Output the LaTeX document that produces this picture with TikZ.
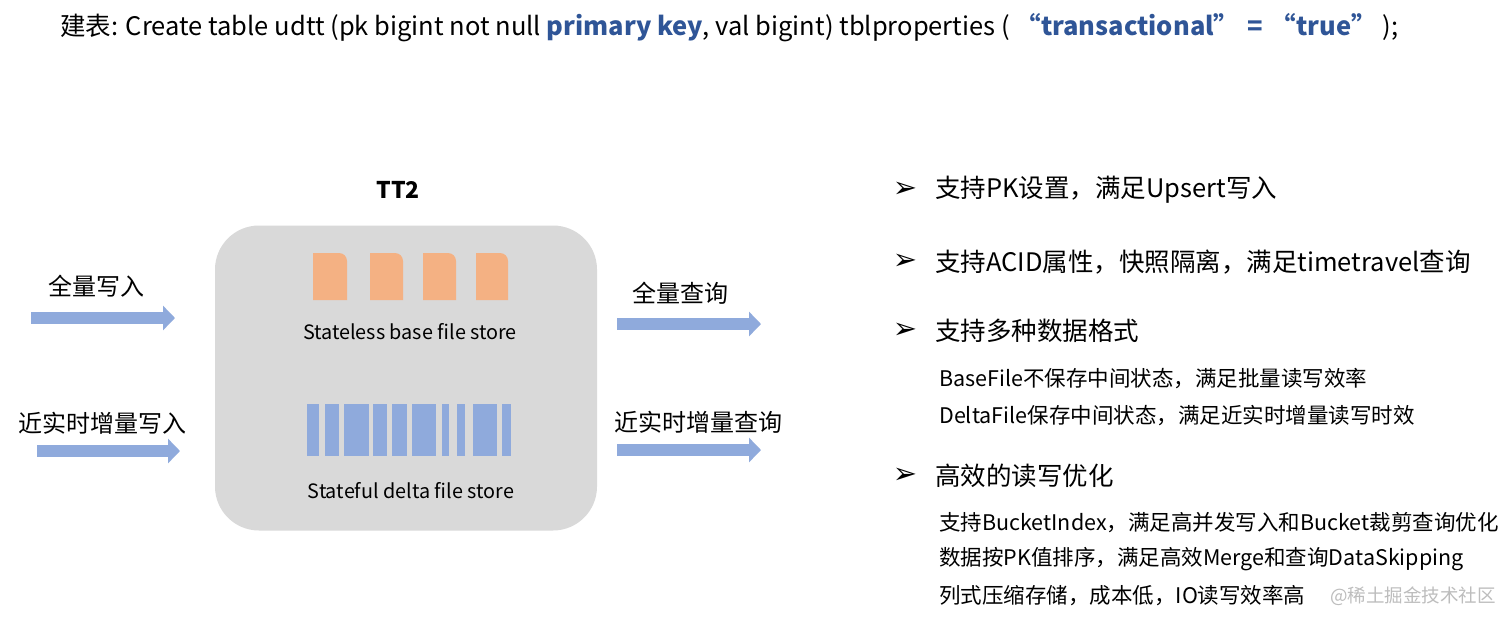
\documentclass[tikz,border=0pt]{standalone}
\usepackage{fontspec}
\setmainfont{Noto Sans CJK SC}
\newfontfamily\symfont{DejaVu Sans}
\usetikzlibrary{arrows.meta}
\definecolor{keyblue}{HTML}{2F5597}
\definecolor{barblue}{HTML}{8FAADC}
\definecolor{fileorange}{HTML}{F4B183}
\definecolor{storegray}{HTML}{D9D9D9}
\definecolor{markgray}{HTML}{BDBDBD}
\tikzset{
  flow/.style={line width=12pt, draw=barblue, -{Triangle[length=12pt,width=24pt]}},
  lbl/.style={inner sep=0pt, font=\fontsize{24}{28}\selectfont},
  item/.style={anchor=west, inner sep=0pt, font=\fontsize{25.5}{30}\selectfont},
  subitem/.style={anchor=west, inner sep=0pt, font=\fontsize{21.5}{25}\selectfont},
  bullet/.style={inner sep=0pt, font=\symfont\bfseries\fontsize{29}{32}\selectfont},
}
\begin{document}
\begin{tikzpicture}[x=1pt, y=-1pt, line join=round]
    \fill[white] (0,0) rectangle (1512,622);
    \useasboundingbox (0,0) rectangle (1512,622);
    \node[anchor=west, inner sep=0pt, font=\fontsize{25.5}{30}\selectfont] (title) at (60,28)
        {建表: Create table udtt (pk bigint not null \textcolor{keyblue}{\bfseries primary key}, val bigint) tblproperties ( \textcolor{keyblue}{\bfseries “transactional”\hspace{8pt}=\hspace{8pt}“true”} );};
    \node[lbl, font=\bfseries\fontsize{23}{28}\selectfont] (tt) at (398,190) {TT2};
    \node[fill=storegray, rounded corners=44pt, minimum width=382pt, minimum height=305pt] (store) at (406,378) {};
    \foreach \a/\b in {313/347, 370/403, 423/456, 476/508}
        \fill[fileorange] (\a,300) -- (\a,253) {[rounded corners=8pt] -- (\b,253)} -- (\b,300) -- cycle;
    \foreach \a/\b in {307/319, 325/339, 344/369, 373/387, 392/407, 412/436, 442/449, 457/465, 473/497, 502/511}
        \fill[barblue] (\a,404) rectangle (\b,456);
    \node[inner sep=0pt, font=\fontsize{19.8}{23}\selectfont] (base) at (410,332) {Stateless base file store};
    \node[inner sep=0pt, font=\fontsize{19.8}{23}\selectfont] (delta) at (411,491) {Stateful delta file store};
    \node[lbl] (fullw) at (96,286) {全量写入};
    \node[lbl] (deltaw) at (103,423) {近实时增量写入};
    \node[lbl] (fullq) at (680,293) {全量查询};
    \node[lbl] (deltaq) at (698,422) {近实时增量查询};
    \coordinate (fullwA) at (31,318);   \coordinate (fullwB) at (175,318);
    \coordinate (deltawA) at (37,451);  \coordinate (deltawB) at (180,451);
    \coordinate (fullqA) at (617,324);  \coordinate (fullqB) at (761,324);
    \coordinate (deltaqA) at (617,450); \coordinate (deltaqB) at (761,450);
    \foreach \n in {fullw, deltaw, fullq, deltaq}
        \draw[flow] (\n A) -- (\n B);
    \foreach \i/\y in {1/190, 2/262, 3/331, 4/476}
        \node[bullet] (bul\i) at (905,\y) {➢};
    \node[item] (feat1) at (935,190) {支持PK设置，满足Upsert写入};
    \node[item] (feat2) at (935,262) {支持ACID属性，快照隔离，满足timetravel查询};
    \node[item] (feat3) at (935,331) {支持多种数据格式};
    \node[item] (feat4) at (935,476) {高效的读写优化};
    \foreach \i/\y/\t in {1/379/{BaseFile不保存中间状态，满足批量读写效率},
                          2/416/{DeltaFile保存中间状态，满足近实时增量读写时效},
                          3/523/{支持BucketIndex，满足高并发写入和Bucket裁剪查询优化},
                          4/559/{数据按PK值排序，满足高效Merge和查询DataSkipping},
                          5/596/{列式压缩存储，成本低，IO读写效率高}}
        \node[subitem] (sub\i) at (939,\y) {\t};
    \node[anchor=west, inner sep=0pt, text=markgray, font=\fontsize{18.5}{21}\selectfont] (mark) at (1330,596) {@稀土掘金技术社区};
\end{tikzpicture}
\end{document}
